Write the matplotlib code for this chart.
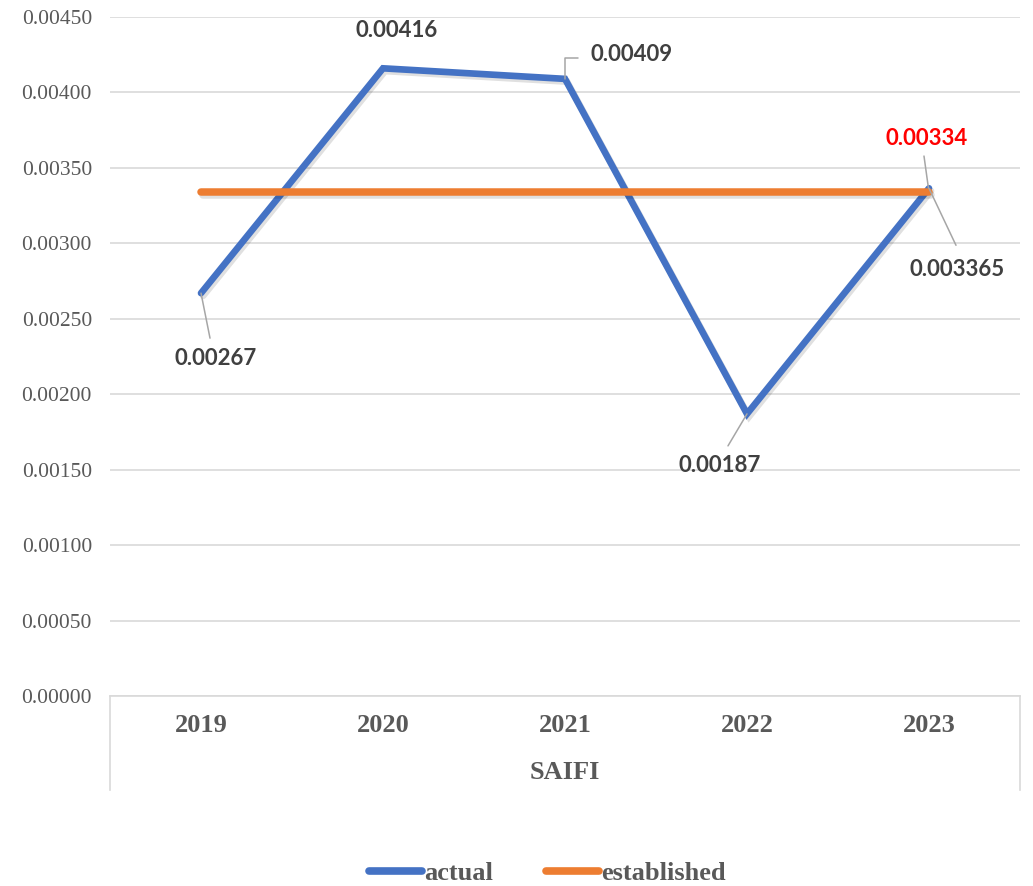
import matplotlib
matplotlib.use("Agg")
import matplotlib.pyplot as plt
import matplotlib.patheffects as pe
from matplotlib.lines import Line2D

# dados
years = ["2019", "2020", "2021", "2022", "2023"]
actual = [0.00267, 0.00416, 0.00409, 0.00187, 0.003365]
established = [0.00334, 0.00334, 0.00334, 0.00334, 0.00334]
actual_labels = ["0.00267", "0.00416", "0.00409", "0.00187", "0.003365"]
established_label = "0.00334"
group_label = "SAIFI"

blue = "#4472c4"
orange = "#ed7d31"
grid_c = "#d9d9d9"
text_c = "#595959"
label_c = "#404040"
leader_c = "#a6a6a6"

fig = plt.figure(figsize=(10.33, 8.86), dpi=100)
ax = fig.add_axes([0.1065, 0.2144, 0.8809, 0.7664])

x = list(range(len(years)))
shadow = [pe.SimpleLineShadow(offset=(1.5, -2), shadow_color="k", alpha=0.12), pe.Normal()]
ax.plot(x, actual, color=blue, lw=4.8, solid_capstyle="round", solid_joinstyle="miter",
        path_effects=shadow, zorder=3)
ax.plot(x, established, color=orange, lw=5.4, solid_capstyle="round",
        path_effects=shadow, zorder=4)

ax.set_xlim(-0.5, 4.5)
ax.set_ylim(0, 0.0045)
ax.set_yticks([i * 0.0005 for i in range(10)])
ax.set_yticklabels([f"{i * 0.0005:.5f}" for i in range(10)])
ax.set_xticks(x)
ax.set_xticklabels(years)
ax.grid(axis="y", color=grid_c, lw=1.2)
ax.set_axisbelow(True)
for s in ["top", "right", "left"]:
    ax.spines[s].set_visible(False)
ax.spines["bottom"].set_color(grid_c)
ax.spines["bottom"].set_linewidth(1.2)
ax.tick_params(axis="y", length=0, pad=13, labelsize=15.5, labelcolor=text_c)
ax.tick_params(axis="x", length=0, pad=13, labelsize=19, labelcolor=text_c)
for t in ax.get_yticklabels():
    t.set_fontfamily("Liberation Serif")
for t in ax.get_xticklabels():
    t.set_fontfamily("Liberation Serif")
    t.set_fontweight("bold")

# eixo de categorias em dois níveis
for xe in [0, 1]:
    ax.plot([xe, xe], [0, -0.138], transform=ax.transAxes, color=grid_c, lw=1.2, clip_on=False)
ax.text(0.5, -0.113, group_label, transform=ax.transAxes, ha="center", va="center",
        fontsize=19, fontweight="bold", color=text_c, family="Liberation Serif")

# rótulos de dados (offsets em pixels)
label_off = [(15, -65), (14, 38), (67, 24), (-27, -52), (28, -81)]
leader_end = [(9, -45), None, (13, 21), (-19, -32), (27, -57)]
for i in range(len(years)):
    ax.annotate(actual_labels[i], xy=(x[i], actual[i]), xytext=label_off[i],
                textcoords="offset pixels", ha="center", va="center", fontsize=16,
                fontweight="bold", color=label_c, family="Lato", zorder=6)
    if leader_end[i] is None:
        continue
    if i == 2:
        cs = "angle,angleA=0,angleB=90,rad=0"
    else:
        cs = "arc3"
    ax.annotate("", xy=(x[i], actual[i]), xytext=leader_end[i], textcoords="offset pixels",
                arrowprops=dict(arrowstyle="-", color=leader_c, lw=1.1, shrinkA=0, shrinkB=0,
                                connectionstyle=cs), zorder=5)

ax.annotate(established_label, xy=(x[4], established[4]), xytext=(-2, 54),
            textcoords="offset pixels", ha="center", va="center", fontsize=16,
            fontweight="bold", color="#ff0000", family="Lato", zorder=6)
ax.annotate("", xy=(x[4], established[4]), xytext=(-5, 36), textcoords="offset pixels",
            arrowprops=dict(arrowstyle="-", color=leader_c, lw=1.1, shrinkA=0, shrinkB=3), zorder=5)

# legenda
handles = [Line2D([], [], color=blue, lw=5.5, solid_capstyle="round"),
           Line2D([], [], color=orange, lw=5.5, solid_capstyle="round")]
fig.legend(handles, ["actual", "established"], loc="center", bbox_to_anchor=(0.53, 13 / 886),
           ncol=2, frameon=False, handlelength=2.0, handletextpad=0.1, columnspacing=2.0,
           prop={"family": "Liberation Serif", "weight": "bold", "size": 19}, labelcolor=text_c)

fig.savefig("out.png", dpi=100)
